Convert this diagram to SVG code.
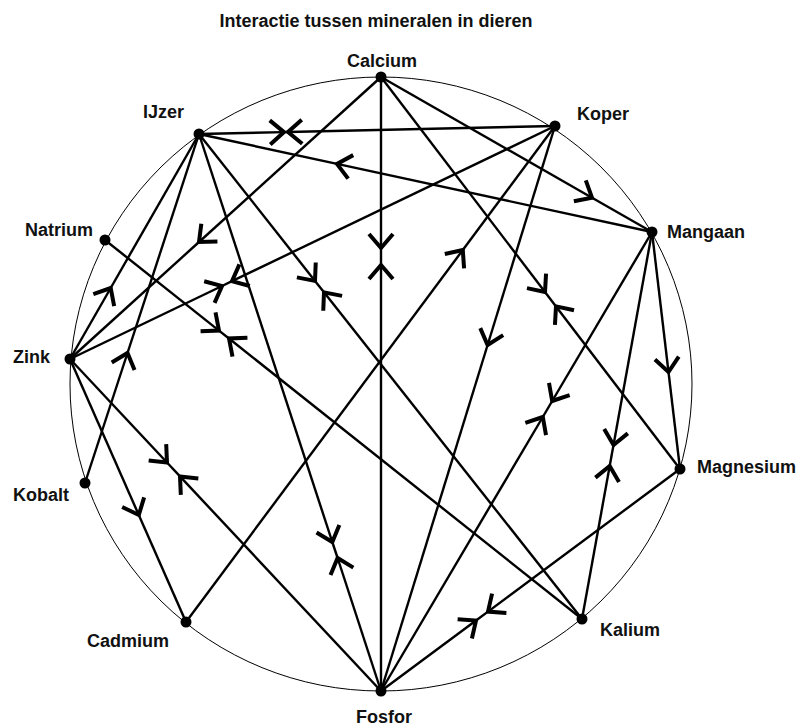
<svg xmlns="http://www.w3.org/2000/svg" width="808" height="727" viewBox="0 0 808 727">
<style>
text{font-family:"Liberation Sans",Arial,sans-serif;font-weight:bold;font-size:18px;fill:#111}
.ln{stroke:#000;stroke-width:2.4;fill:none}
.ar{stroke:#000;stroke-width:2.4;fill:none;marker-end:url(#arr)}
.dot{fill:#000}
.ring{fill:none;stroke:#000;stroke-width:1}
</style>
<defs>
<marker id="arr" markerUnits="userSpaceOnUse" orient="auto" refX="0" refY="0" markerWidth="40" markerHeight="40" overflow="visible">
<path d="M-14,-12 L0,0 L-14,12" fill="none" stroke="#000" stroke-width="4" stroke-linejoin="miter"/>
</marker>
</defs>
<rect width="808" height="727" fill="#fff"/>
<text x="376" y="27" text-anchor="middle">Interactie tussen mineralen in dieren</text>
<ellipse class="ring" cx="381" cy="384" rx="311" ry="307"/>
<g id="connectors">
<g id="e-ijzer-koper"><path class="ar" d="M199,134 L284,132.1"/><path class="ar" d="M555,126 L288,132"/><path class="ln" d="M284,132.1 L288,132"/></g>
<g id="e-mangaan-ijzer"><path class="ar" d="M652,232 L337,163.9"/><path class="ln" d="M337,163.9 L199,134"/></g>
<g id="e-calcium-zink"><path class="ar" d="M381,77 L199,242"/><path class="ln" d="M199,242 L70,359"/></g>
<g id="e-calcium-fosfor"><path class="ar" d="M381,77 L381,248"/><path class="ar" d="M381,691 L381,265"/><path class="ln" d="M381,248 L381,265"/></g>
<g id="e-calcium-magnesium"><path class="ar" d="M381,77 L545,292"/><path class="ar" d="M680,469 L556,306.4"/><path class="ln" d="M545,292 L556,306.4"/></g>
<g id="e-calcium-mangaan"><path class="ar" d="M381,77 L592,197.7"/><path class="ln" d="M592,197.7 L652,232"/></g>
<g id="e-zink-ijzer"><path class="ar" d="M70,359 L110.7,288"/><path class="ln" d="M110.7,288 L199,134"/></g>
<g id="e-kobalt-ijzer"><path class="ar" d="M85,483 L127.5,353"/><path class="ln" d="M127.5,353 L199,134"/></g>
<g id="e-zink-koper"><path class="ar" d="M70,359 L222,286"/><path class="ar" d="M555,126 L232,281.2"/><path class="ln" d="M222,286 L232,281.2"/></g>
<g id="e-natrium-kalium"><path class="ar" d="M105,240 L219,330.6"/><path class="ar" d="M582,619 L229,338.5"/><path class="ln" d="M219,330.6 L229,338.5"/></g>
<g id="e-ijzer-kalium"><path class="ar" d="M199,134 L315,280.9"/><path class="ar" d="M582,619 L324,292.3"/><path class="ln" d="M315,280.9 L324,292.3"/></g>
<g id="e-ijzer-fosfor"><path class="ar" d="M199,134 L332.3,542"/><path class="ar" d="M381,691 L337.6,558"/><path class="ln" d="M332.3,542 L337.6,558"/></g>
<g id="e-zink-fosfor"><path class="ar" d="M70,359 L167,462.5"/><path class="ar" d="M381,691 L180,476.4"/><path class="ln" d="M167,462.5 L180,476.4"/></g>
<g id="e-zink-cadmium"><path class="ar" d="M70,359 L138.8,515"/><path class="ln" d="M138.8,515 L186,622"/></g>
<g id="e-koper-fosfor"><path class="ar" d="M555,126 L487.6,345"/><path class="ln" d="M487.6,345 L381,691"/></g>
<g id="e-cadmium-koper"><path class="ar" d="M186,622 L462.8,250"/><path class="ln" d="M462.8,250 L555,126"/></g>
<g id="e-mangaan-magnesium"><path class="ar" d="M652,232 L668.5,372"/><path class="ln" d="M668.5,372 L680,469"/></g>
<g id="e-mangaan-fosfor"><path class="ar" d="M652,232 L552.2,401"/><path class="ar" d="M381,691 L542.8,417"/><path class="ln" d="M552.2,401 L542.8,417"/></g>
<g id="e-mangaan-kalium"><path class="ar" d="M652,232 L613.5,445"/><path class="ar" d="M582,619 L609.7,466"/><path class="ln" d="M613.5,445 L609.7,466"/></g>
<g id="e-magnesium-fosfor"><path class="ar" d="M680,469 L488,611.6"/><path class="ar" d="M381,691 L476,620.5"/><path class="ln" d="M488,611.6 L476,620.5"/></g>
</g>
<g id="n-calcium"><circle class="dot" cx="381" cy="77" r="5.5"/><text x="382" y="67" text-anchor="middle">Calcium</text></g>
<g id="n-ijzer"><circle class="dot" cx="199" cy="134" r="5.5"/><text x="143" y="118">IJzer</text></g>
<g id="n-koper"><circle class="dot" cx="555" cy="126" r="5.5"/><text x="577" y="120">Koper</text></g>
<g id="n-mangaan"><circle class="dot" cx="652" cy="232" r="5.5"/><text x="667" y="238">Mangaan</text></g>
<g id="n-natrium"><circle class="dot" cx="105" cy="240" r="5.5"/><text x="25" y="236">Natrium</text></g>
<g id="n-zink"><circle class="dot" cx="70" cy="359" r="5.5"/><text x="13" y="363">Zink</text></g>
<g id="n-kobalt"><circle class="dot" cx="85" cy="483" r="5.5"/><text x="13" y="501">Kobalt</text></g>
<g id="n-magnesium"><circle class="dot" cx="680" cy="469" r="5.5"/><text x="697" y="473">Magnesium</text></g>
<g id="n-cadmium"><circle class="dot" cx="186" cy="622" r="5.5"/><text x="87" y="647">Cadmium</text></g>
<g id="n-kalium"><circle class="dot" cx="582" cy="619" r="5.5"/><text x="600" y="636">Kalium</text></g>
<g id="n-fosfor"><circle class="dot" cx="381" cy="691" r="5.5"/><text x="384" y="723" text-anchor="middle">Fosfor</text></g>
</svg>
